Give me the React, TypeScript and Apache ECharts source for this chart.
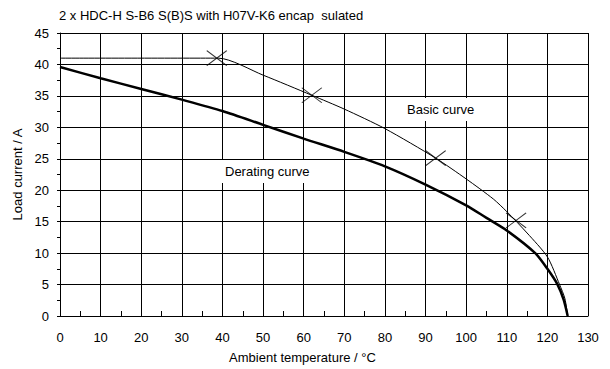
import React, { useEffect, useRef } from "react";
import * as echarts from "echarts";

const titleText = "2 x HDC-H S-B6 S(B)S with H07V-K6 encap  sulated";
const xAxisName = "Ambient temperature / °C";
const yAxisName = "Load current / A";

const xTicks = [0, 10, 20, 30, 40, 50, 60, 70, 80, 90, 100, 110, 120, 130];
const yTicks = [0, 5, 10, 15, 20, 25, 30, 35, 40, 45];

const basicX = [0, 39, 50, 62, 70, 80, 92.5, 100, 106.7, 110, 115, 120, 123, 124.3, 125];
const basicY = [41, 41, 38.3, 35.1, 32.9, 29.8, 25.1, 21.8, 18.6, 16.6, 13.2, 9.4, 5.0, 2.8, 0];

const deratingX = [0, 10, 20, 30, 40, 50, 60, 70, 80, 90, 100, 105, 110, 117, 120, 122.5, 124, 125];
const deratingY = [39.6, 37.8, 36.1, 34.4, 32.6, 30.4, 28.2, 26.1, 23.8, 20.9, 17.6, 15.6, 13.6, 10.0, 7.5, 5.0, 2.6, 0];

const markerX = [38.6, 62, 92.5, 112.3];
const markerY = [41, 35.1, 25.1, 15.2];

const basicLabel = "Basic curve";
const deratingLabel = "Derating curve";

const FONT = "'Liberation Sans', Arial, sans-serif";

export default function App() {
  const ref = useRef<HTMLDivElement>(null);
  useEffect(() => {
    if (!ref.current) return;
    const chart = echarts.init(ref.current, undefined, { renderer: "svg" });
    const pair = (xs: number[], ys: number[]) => xs.map((x, i) => [x, ys[i]]);
    chart.setOption({
      animation: false,
      textStyle: { fontFamily: FONT, color: "#000" },
      grid: { left: 60, right: 22, top: 33, bottom: 51.5 },
      xAxis: {
        type: "value",
        min: 0,
        max: 130,
        interval: 10,
        name: xAxisName,
        nameLocation: "middle",
        nameGap: 35,
        nameTextStyle: { fontFamily: FONT, fontSize: 13, color: "#000", padding: [0, 43, 0, 0] },
        axisLine: { show: true, onZero: false, lineStyle: { color: "#000", width: 1 } },
        axisTick: { show: true, inside: true, length: 4, lineStyle: { color: "#000" } },
        minorTick: { show: true, splitNumber: 2, length: 5, lineStyle: { color: "#000" } },
        axisLabel: { fontFamily: FONT, fontSize: 13, color: "#000", margin: 15 },
        splitLine: { show: false },
      },
      yAxis: {
        type: "value",
        min: 0,
        max: 45,
        interval: 5,
        name: yAxisName,
        nameLocation: "middle",
        nameGap: 32,
        nameRotate: 90,
        nameTextStyle: { fontFamily: FONT, fontSize: 13, color: "#000" },
        axisLine: { show: true, onZero: false, lineStyle: { color: "#000", width: 1 } },
        axisTick: { show: true, inside: false, length: 3, lineStyle: { color: "#000" } },
        minorTick: { show: true, splitNumber: 2, length: 3, lineStyle: { color: "#000" } },
        axisLabel: { fontFamily: FONT, fontSize: 13, color: "#000", margin: 11 },
        splitLine: { show: false },
      },
      graphic: [
        {
          type: "text",
          left: 59,
          top: 9,
          z: 40,
          style: { text: titleText, font: `13px ${FONT}`, fill: "#000" },
        },
        {
          type: "text",
          x: 403,
          y: 98,
          z: 40,
          style: {
            text: basicLabel,
            font: `13px ${FONT}`,
            fill: "#000",
            backgroundColor: "#fff",
            padding: [5, 4, 5, 4],
          },
        },
        {
          type: "text",
          x: 221,
          y: 160,
          z: 40,
          style: {
            text: deratingLabel,
            font: `13px ${FONT}`,
            fill: "#000",
            backgroundColor: "#fff",
            padding: [5, 4, 5, 4],
          },
        },
      ],
      series: [
        {
          type: "line",
          data: pair(basicX, basicY),
          showSymbol: false,
          lineStyle: { color: "#000", width: 1 },
          smooth: 0.25,
          z: 3,
          markLine: {
            silent: true,
            z: 20,
            symbol: "none",
            animation: false,
            label: { show: false },
            lineStyle: { color: "#000", width: 1, type: "solid" },
            emphasis: { disabled: true },
            data: [
              ...xTicks.map((v) => ({ xAxis: v })),
              ...yTicks.map((v) => ({ yAxis: v })),
            ],
          },
        },
        {
          type: "line",
          data: pair(deratingX, deratingY),
          showSymbol: false,
          lineStyle: { color: "#000", width: 2.5 },
          smooth: 0.25,
          z: 3,
        },
        {
          type: "scatter",
          data: pair(markerX, markerY),
          symbol: "path://M0,0L20,15M0,15L20,0",
          symbolSize: [20, 15],
          itemStyle: { color: "none", borderColor: "#000", borderWidth: 1 },
          z: 4,
        },
      ],
    });
    return () => chart.dispose();
  }, []);
  return <div ref={ref} style={{ width: 610, height: 369, position: "absolute", left: 0, top: 0 }} />;
}
